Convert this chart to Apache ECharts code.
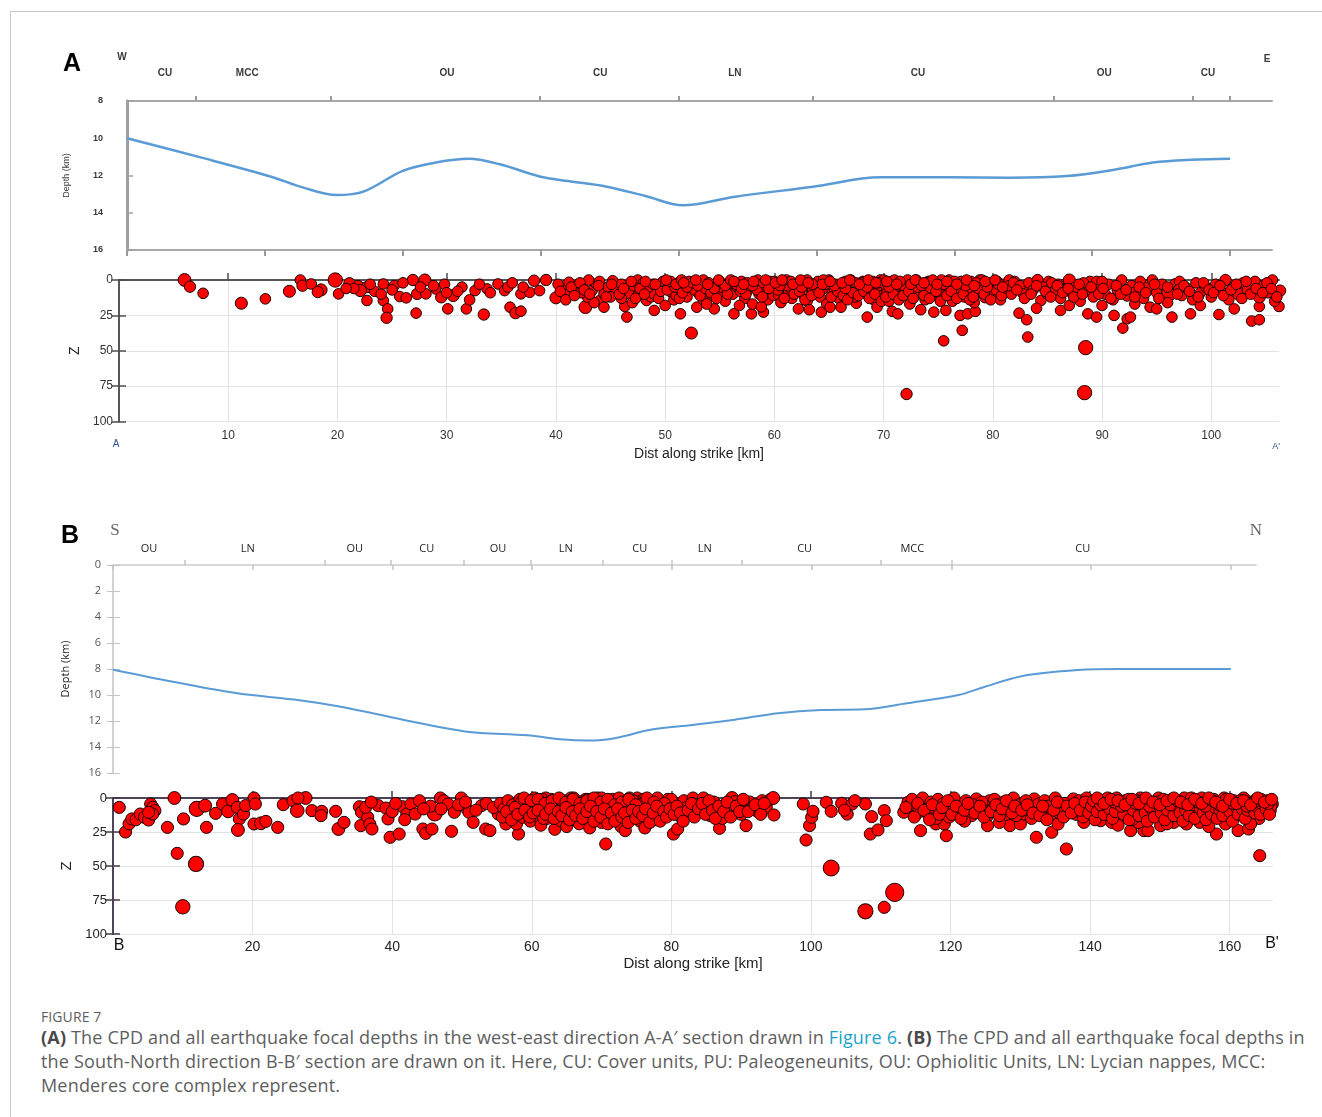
<!DOCTYPE html>
<html><head><meta charset="utf-8">
<script src="https://cdn.jsdelivr.net/npm/echarts@6/dist/echarts.min.js"></script>
<style>
html,body{margin:0;padding:0;background:#fff;width:1322px;height:1117px;overflow:hidden;}
#frame{position:absolute;left:10px;top:11px;width:1312px;height:1106px;border-top:1px solid #c8c8c8;border-left:1px solid #c8c8c8;}
#chart{position:absolute;left:0;top:0;width:1322px;height:1000px;}
#cap{position:absolute;left:41px;top:1008px;width:1280px;font-family:"Open Sans",sans-serif;color:#5e5e5e;white-space:nowrap;}
#cap .fig{font-size:14px;line-height:18px;letter-spacing:0.1px;text-transform:uppercase;}
#cap .txt{font-size:18px;line-height:24px;letter-spacing:0.18px;margin-top:-1px;}
#cap b{color:#4a4a4a;}
#cap .lnk{color:#1aa3c9;}
</style></head><body>
<div id="frame"></div>
<div id="chart"></div>
<div id="cap"><div class="fig">Figure 7</div><div class="txt"><b>(A)</b> The CPD and all earthquake focal depths in the west-east direction A-A′ section drawn in <span class="lnk">Figure 6</span>. <b>(B)</b> The CPD and all earthquake focal depths in<br>the South-North direction B-B′ section are drawn on it. Here, CU: Cover units, PU: Paleogeneunits, OU: Ophiolitic Units, LN: Lycian nappes, MCC:<br>Menderes core complex represent.</div></div>
<script>
// ---------- Panel A (west-east, A-A') ----------
const aUnitNames = ['CU','MCC','OU','CU','LN','CU','OU','CU'];
const aUnitCentres = [3.45,10.9,29,42.9,55.1,71.7,88.6,98];
const aUnitBounds = [6.26,18.5,37.4,50,62.2,84,96.6,100];
// CPD line: [distance km, depth km]
const aCpd = [[0,10.0],[6.5,11.0],[13,12.05],[16,12.65],[19,13.05],[21.5,12.85],[25,11.75],[28,11.3],[31,11.1],[33.8,11.4],[37.4,12.05],[40,12.3],[43.5,12.6],[47,13.1],[50.4,13.6],[55,13.15],[62.2,12.6],[68.3,12.1],[74.6,12.1],[80,12.12],[85.2,12.03],[89.4,11.7],[93,11.3],[96.5,11.15],[100,11.1]];
// focal depths: [distance km, depth km, magnitude]
const aQuakes = [
[6.0,0,3.2],[6.5,4.7,2.8],[7.7,9.4,2.6],[11.2,16.4,3.0],[13.4,13.3,2.6],[15.6,8,3.0],[16.6,0,2.6],[16.8,4,2.8],[17.6,2.8,2.6],[18.5,7,3.0],[18.2,8.5,2.8],[19.8,0,3.6],[20.1,9.8,2.6],[21.1,2.3,2.8],[21.9,4,2.6],[22.7,5,2.8],[23.4,8,2.6],[24.2,2.8,2.6],[22.1,7.5,3.0],[22.7,14.5,2.6],[24.2,14.5,2.6],[24.6,20.4,2.6],[24.5,26.7,2.8],[25.7,11.7,2.6],[26.3,12.6,2.6],[26.9,0,2.8],[27.3,9.8,2.8],[27.2,23.4,2.6],[28.0,0,3.0],[28.1,9.8,2.6],[27.6,5,2.6],[29,6.3,2.6],[29.5,12.2,2.8],[30.1,20.4,2.6],[30.6,11,3.0],[31.4,5,2.6],[31.8,20.4,2.6],[32.1,14,2.6],[32.6,7.5,2.6],[33.4,24.4,2.8],[33.7,6.3,2.6],[34.7,2.8,2.6],[35.3,7.5,2.6],[35.6,5,2.6],[35.8,19.2,2.6],[36.3,23.4,2.8],[36.8,22,2.6],[36.8,9.8,2.6],[37.6,8.7,2.6],[38,0.5,2.8],[38.5,7.5,2.6],[39.1,0,2.8],[21.5,6,2.6],[23.0,3,2.6],[25.2,4,2.6],[26,2,2.6],[29.8,3,2.6],[31,8,2.6],[33,3,2.6],[34,9,2.6],[36,2,2.6],[37,5,2.6],[30,9,2.6],[28.8,4,2.6],[25,7,2.6],[24,10,2.6],[20.8,6,2.6],
[40,12.6,3.0],[40.6,6.3,2.6],[41.2,1.6,2.6],[41.8,7.5,2.6],[42.7,19.2,3.2],[42.9,12.2,2.6],[43.3,7.5,2.6],[43.7,2.8,2.6],[44,14.5,2.6],[44.4,9.8,2.6],[44.8,5,2.6],[45.2,0.5,2.6],[44.4,19.2,2.6],[46.3,18.7,2.6],[46.5,26.2,2.6],[46.7,9.8,2.6],[47.1,4,2.6],[47.5,0,2.6],[47.9,8,2.6],[48.3,14.5,2.6],[48.7,12,2.6],[49,21.5,2.6],[49.3,6,2.6],[49.8,1,2.6],[40.2,3,2.6],[41,10,2.6],[42,4,2.6],[43,0,2.6],[45.5,7,2.6],[46,3,2.6],[46,13,2.6],[47,16,2.6],[48,2,2.6],[49,10,2.6],[45,12,2.6],[42.3,9,2.6],[44,1,2.6],[48.5,5,2.6],[43.5,16,2.6],[47.5,11,2.6],
[40.4,8,2.6],[40.9,14,2.6],[41.4,5,2.6],[41.7,11,2.6],[42.2,2,2.6],[42.6,7,2.6],[43.1,10,2.6],[43.9,4,2.6],[44.6,12,2.6],[45.1,3,2.6],[45.8,10,2.6],[46.2,6,2.6],[46.9,1,2.6],[47.3,13,2.6],[47.7,6,2.6],[48.1,10,2.6],[48.9,3,2.6],[49.4,13,2.6],[49.6,8,2.6],
[50.3,4,2.6],[50.6,9,2.6],[50.8,14,2.6],[51.4,23.9,2.6],[51.2,2,2.6],[51.8,7,2.6],[52,12,2.6],[52.4,37.5,3.0],[52.9,19.2,2.6],[52.5,3,2.6],[53,9,2.6],[53.3,1,2.6],[53.5,14,2.6],[54,5,2.6],[54.5,20.4,2.6],[54.3,11,2.6],[54.8,2,2.6],[55.2,8,2.6],[55.5,15,2.6],[55.8,3,2.6],[56.3,23.9,2.6],[56.2,10,2.6],[56.6,5,2.6],[57,1,2.6],[57.3,13,2.6],[57.6,7,2.6],[57.9,23.9,2.6],[58,17,2.6],[58.2,3,2.6],[58.6,10,2.6],[59,22.7,2.6],[59,5,2.6],[59.4,14,2.6],[59.6,1,2.6],[59.8,8,2.6],[50,18,2.6],[51,11,2.6],[53.8,17,2.6],[56.8,18,2.6],[58.8,19,2.6],
[50.2,7,2.6],[50.9,5,2.6],[51.3,13,2.6],[51.6,9,2.6],[52.2,1,2.6],[52.7,7,2.6],[53.2,11,2.6],[53.7,6,2.6],[54.2,9,2.6],[54.7,13,2.6],[55.1,5,2.6],[55.7,10,2.6],[56.1,2,2.6],[56.9,8,2.6],[57.4,10,2.6],[57.8,4,2.6],[58.4,7,2.6],[58.9,12,2.6],[59.3,3,2.6],[59.9,11,2.6],
[60.2,3,2.6],[60.4,11,2.6],[60.6,16,2.6],[60.8,6,2.6],[61.1,0,2.6],[61.3,9,2.6],[61.6,13,2.6],[61.9,4,2.6],[62.2,20.4,2.6],[62.1,7,2.6],[62.5,1,2.6],[62.7,11,2.6],[63,15,2.6],[63.2,21,2.6],[63.3,5,2.6],[63.6,9,2.6],[63.9,2,2.6],[64.2,12,2.6],[64.3,22.7,2.6],[64.5,6,2.6],[64.8,17,2.6],[65.1,19.2,2.6],[65,0,2.6],[65.3,9,2.6],[65.6,3,2.6],[65.9,13,2.6],[66.1,19.2,2.6],[66.2,7,2.6],[66.5,1,2.6],[66.8,10,2.6],[67.1,4,2.6],[67.5,16.4,2.6],[67.4,12,2.6],[67.8,7,2.6],[68.1,1,2.6],[68.5,26.2,2.6],[68.4,10,2.6],[68.8,4,2.6],[69.1,14,2.6],[69.4,19.2,2.6],[69.3,7,2.6],[69.7,0,2.6],[69.9,11,2.6],[60,1,2.6],[61,2,2.6],[62,3,2.6],[63,0,2.6],[64,1,2.6],[65,2,2.6],[66,4,2.6],[67,0,2.6],[68,2,2.6],[69,1,2.6],[61.5,6,2.6],[63.5,7,2.6],[65.5,6,2.6],[67.5,5,2.6],[69.5,4,2.6],
[60.3,7,2.6],[60.9,13,2.6],[61.2,4,2.6],[61.8,10,2.6],[62.3,8,2.6],[62.8,14,2.6],[63.4,11,2.6],[63.8,5,2.6],[64.1,9,2.6],[64.7,3,2.6],[65.2,12,2.6],[65.8,8,2.6],[66.3,11,2.6],[66.7,14,2.6],[67.2,9,2.6],[67.7,11,2.6],[68.2,8,2.6],[68.7,13,2.6],[69.2,10,2.6],[69.8,15,2.6],
[70.1,3,2.6],[70.3,9,2.6],[70.5,15,2.6],[70.8,22.2,2.6],[70.7,1,2.6],[71,6,2.6],[71.3,23.9,2.6],[71.3,12,2.6],[71.6,3,2.6],[71.9,8,2.6],[72.1,80.6,2.8],[72.2,0,2.6],[72.4,17,2.6],[72.6,5,2.6],[72.9,11,2.6],[73.2,2,2.6],[73.4,21,2.6],[73.5,7,2.6],[73.8,14,2.6],[74.1,1,2.6],[74.3,9,2.6],[74.6,22.7,2.6],[74.7,4,2.6],[75,12,2.6],[75.3,0,2.6],[75.5,43,2.6],[75.7,21.5,2.6],[75.6,7,2.6],[76,2,2.6],[76.3,15,2.6],[76.5,10,2.6],[76.8,4,2.6],[77,25,2.6],[77.2,35.6,2.6],[77.1,1,2.6],[77.4,12,2.6],[77.7,23.9,2.6],[77.7,7,2.6],[78,3,2.6],[78.4,22.2,2.6],[78.3,16,2.6],[78.5,9,2.6],[78.8,0,2.6],[79.1,5,2.6],[79.3,12.2,2.8],[79.6,2,2.6],[80.1,9.8,2.8],[80,5,2.6],[80.4,1,2.6],[80.7,14,2.6],[81.1,8.7,3.0],[81,3,2.6],[81.5,0,2.6],[81.8,6,2.6],[70,0,2.6],[71,0,2.6],[73,0,2.6],[74,2,2.6],[76,0,2.6],[78,1,2.6],[79,0,2.6],[80,2,2.6],[72,6,2.6],[74,6,2.6],[76,6,2.6],[78,6,2.6],[73,10,2.6],[75,9,2.6],[77,9,2.6],[79,8,2.6],
[70.2,12,2.6],[70.9,10,2.6],[71.4,14,2.6],[71.8,11,2.6],[72.3,8,2.6],[72.7,13,2.6],[73.1,5,2.6],[73.7,11,2.6],[74.2,13,2.6],[74.8,8,2.6],[75.2,15,2.6],[75.8,11,2.6],[76.2,8,2.6],[76.7,13,2.6],[77.3,10,2.6],[77.9,14,2.6],[78.2,12,2.6],[78.7,6,2.6],[79.2,10,2.6],[79.8,14,2.6],[80.3,7,2.6],[80.8,11,2.6],[81.3,6,2.6],[81.7,10,2.6],
[50.5,1,2.6],[51,3,2.6],[51.5,0,2.6],[52,5,2.6],[52.5,2,2.6],[53,4,2.6],[53.5,0,2.6],[54,2,2.6],[54.5,6,2.6],[55,1,2.6],[55.5,4,2.6],[56,0,2.6],[56.5,3,2.6],[57,6,2.6],[57.5,2,2.6],[58,4,2.6],[58.5,0,2.6],[59,2,2.6],[59.5,6,2.6],[60.5,4,2.6],[61.5,1,2.6],[62.5,5,2.6],[63.5,3,2.6],[64.5,0,2.6],[65.5,4,2.6],[66.5,6,2.6],[67.5,2,2.6],[68.5,5,2.6],[69.5,2,2.6],[70.5,5,2.6],[71.5,1,2.6],[72.5,3,2.6],[73.5,4,2.6],[74.5,0,2.6],[75.5,3,2.6],[76.5,1,2.6],[77.5,4,2.6],[78.5,2,2.6],[79.5,5,2.6],[80.5,3,2.6],[81.5,4,2.6],[82,1,2.6],
[48.2,1,2.6],[49.1,3,2.6],[50.1,0,2.6],[51.7,2,2.6],[52.8,0,2.6],[53.9,3,2.6],[54.9,0,2.6],[56.3,1,2.6],[57.2,3,2.6],[58.1,1,2.6],[59.2,0,2.6],[60.1,2,2.6],[60.7,0,2.6],[61.7,3,2.6],[62.4,0,2.6],[63.1,2,2.6],[64.4,3,2.6],[65.1,1,2.6],[66.2,2,2.6],[66.9,0,2.6],[67.8,3,2.6],[68.6,0,2.6],[69.3,2,2.6],[70.3,1,2.6],[71.2,3,2.6],[72.9,0,2.6],[73.7,2,2.6],[74.9,3,2.6],[75.8,1,2.6],[76.7,3,2.6],[77.6,0,2.6],[78.3,4,2.6],[79.3,1,2.6],[80.2,0,2.6],[80.9,5,2.6],[81.9,2,2.6],[83,5,2.6],[85.1,1,2.6],[86.8,2,2.6],[88.9,1,2.6],
[82.4,23.4,2.6],[83.1,28.1,2.6],[83.2,40.3,2.6],[82.5,4,2.6],[82.8,10,2.6],[83.3,2,2.6],[83.7,7,2.6],[84.1,0,2.8],[84.4,14.5,2.6],[84.6,5,2.6],[85,10,2.6],[85.4,2,2.6],[85.8,7,2.8],[86.2,21.5,2.6],[86.2,13,2.6],[86.6,3,2.6],[87,0,3.0],[87.2,9,2.6],[87.6,5,2.8],[88,15,2.6],[88.5,47.8,3.6],[88.4,79.6,3.6],[88.7,23.9,2.6],[88.3,2,2.6],[88.8,8,2.6],[89.2,12,2.6],[89.5,26.2,2.6],[89.5,1,2.6],[89.8,6,2.6],[90.3,10,2.6],[90.6,3,2.6],[91.1,25,2.6],[91,14,2.6],[91.4,7,2.6],[91.9,34,2.6],[91.8,0,2.6],[92.3,27.4,2.6],[92.3,11,2.8],[92.6,26.2,2.6],[92.7,4,2.6],[93.1,8,2.6],[93.5,1,2.6],[93.8,13,2.6],[94.2,5,2.6],[94.4,19.2,2.6],[94.6,0,2.6],[95,20.4,2.6],[95,9,2.6],[95.5,3,2.6],[95.8,12,2.6],[96.2,8.7,4.0],[96.4,26.2,2.6],[96.7,3,2.8],[97.1,1,2.6],[97.3,11,2.6],[97.8,6,2.6],[98.1,23.9,2.6],[98.3,14,2.6],[98.6,2,2.6],[99,9,2.6],[99.5,5,2.6],[100,12,2.6],[100.4,3,2.6],[100.7,24.4,2.6],[100.9,8,2.6],[101.3,0,2.8],[101.6,14,2.6],[102.1,20.4,2.6],[102,5,2.6],[102.5,10,3.0],[102.9,2,2.6],[103.3,7,2.6],[103.7,29,2.6],[104.4,28.1,2.6],[104.4,18.7,2.6],[104,1,2.6],[104.4,12,3.0],[104.8,4,2.6],[105.2,9,2.6],[105.6,0,2.6],[106.2,18.7,2.6],[106.3,7.5,2.8],[105.8,15,2.6],[84,20,2.6],[87,18,2.6],[90,18,2.6],[93,17,2.6],[96,16,2.6],[99,18,2.6],[86,3,2.6],[90,1,2.6],[97,7,2.6],
[82.2,7,2.6],[82.9,13,2.6],[83.5,10,2.6],[84,4,2.6],[84.8,8,2.6],[85.3,12,2.6],[85.9,4,2.6],[86.4,9,2.6],[86.9,6,2.6],[87.4,12,2.6],[87.9,3,2.6],[88.2,10,2.6],[89,5,2.6],[89.7,10,2.6],[90.1,6,2.6],[90.8,13,2.6],[91.3,4,2.6],[91.7,10,2.6],[92.2,7,2.6],[93,12,2.6],[93.4,5,2.6],[94,9,2.6],[94.8,3,2.6],[95.2,13,2.6],[96,5,2.6],[96.9,10,2.6],[97.5,4,2.6],[98,8,2.6],[98.8,12,2.6],[99.3,2,2.6],[99.8,7,2.6],[100.2,9,2.6],[100.8,4,2.6],[101.1,11,2.6],[101.8,7,2.6],[102.3,3,2.6],[102.8,13,2.6],[103.2,1,2.6],[103.6,10,2.6],[104.1,6,2.6],[104.7,9,2.6],[105.1,2,2.6],[105.5,6,2.6],[106,12,2.6]
];
const aTopTicks = [0,12.5,25,37.5,50,62.5,75,87.5,100];
const aDistTicks = [10,20,30,40,50,60,70,80,90,100];

// ---------- Panel B (south-north, B-B') ----------
const bUnitNames = ['OU','LN','OU','CU','OU','LN','CU','LN','CU','MCC','CU'];
const bUnitCentres = [5.15,19.3,34.6,44.9,55.1,64.8,75.4,84.7,99,114.4,138.8];
const bUnitBounds = [10.3,30.3,39.8,50.2,59.8,70.1,80,90,109.9,120];
const bCpd = [[0,8.05],[8.8,9.0],[17.8,9.87],[26.7,10.4],[32.6,10.9],[41.5,11.9],[50.4,12.8],[59.3,13.1],[64,13.4],[68.1,13.5],[72,13.3],[77.1,12.65],[83,12.3],[89,11.9],[95.2,11.4],[101.3,11.15],[107.5,11.1],[113.6,10.64],[121,10.0],[124.6,9.4],[130.2,8.54],[138.1,8.08],[144.2,8.0],[160,8.0]];
const bQuakes = [
[0.9,6.9,2.8],[1.8,25,2.8],[2.3,19,2.8],[2.7,15.4,2.8],[3.3,16,2.8],[3.9,11.8,2.8],[4.5,14.2,2.8],[5.1,16.2,2.8],[5.4,4.4,2.8],[5.7,6.9,2.8],[6,9.3,2.8],[5.7,11.8,2.8],[5.1,10.5,2.8],[7.8,21.6,2.8],[8.8,0,3.0],[9.2,40.7,2.8],[10,80,3.4],[10.1,15.4,2.8],[11.9,48.5,3.6],[12,8,3.6],[13.2,5.6,3.0],[13.4,21.6,2.8],[14.7,11.3,2.8],[15.7,4.4,2.8],[16.5,9.8,3.0],[17.1,1.5,3.0],[17.8,6.9,2.8],[18.1,15.4,2.8],[17.9,23.5,3.0],[18.7,11.8,2.8],[19,5.6,2.8],[20.2,0,2.8],[20.4,4.4,2.8],[20.2,19.1,2.8],[21.2,18.6,3.0],[21.9,17.2,2.8],[23.6,21.6,2.8],[24.4,4.9,2.8],[25.8,2,2.8],[26.4,9.3,3.2],[27.6,0,3.0],[26.5,0,2.8],[28.5,9.3,2.8],[29.9,9.8,2.8],[29.8,13,2.8],[31.9,9.8,2.8],[32.3,22.8,3.0],[33.1,17.9,2.8],[35.3,6.4,2.8],[35.6,10.5,2.8],[35.5,20.3,2.8],[36.5,14.2,2.8],[36.8,19.1,2.8],[37.1,22.8,2.8],[36.2,6.9,2.8],[38,5.6,2.8],[39.1,7.4,2.8],[39.4,15.4,2.8],[39.7,28.9,2.8],[41,26.5,2.8],[41.5,6.4,2.8],[42.1,11.8,2.8],[42.7,4.4,2.8],[43.3,11.8,2.8],[43.9,2,2.8],[41.8,16,2.8],[44.4,22.8,2.8],[44.8,26,2.8],[45.7,22.8,2.8],[46.1,11.3,3.6],[46.9,0,2.8],[47.4,2,2.8],[48,4.4,2.8],[48.5,24.5,2.8],[48.9,10.5,2.8],[49.9,0,2.8],[50.7,8,2.8],[51,10.5,2.8],[51.6,17.9,2.8],[52.8,5.6,2.8],[53.4,22.8,2.8],[54,24,2.8],[55.2,11.8,2.8],[45.5,6,2.8],[44.5,8,2.8],[47,8,2.8],[49.5,5,2.8],[52,9,2.8],[53.5,4,2.8],[54.5,7,2.8],[50.5,3,2.8],[37,3,2.8],[40,10,2.8],[40.5,4,2.8],
[56.3,19.1,2.8],[58.1,26.5,2.8],[57.8,19.1,2.8],[58.7,14.2,2.8],[55.5,4,2.8],[56,8,2.8],[56.6,2,2.8],[57,12,2.8],[57.3,5,2.8],[57.8,9,2.8],[58.3,1,2.8],[58.6,6,2.8],[59.1,11,2.8],[59.4,3,2.8],[59.8,17,2.8],[60.1,8,2.8],[60.4,0,2.8],[60.7,13,2.8],[61,5,2.8],[61.3,20,2.8],[61.5,2,2.8],[61.8,10,2.8],[62.2,15,2.8],[62.4,6,2.8],[62.8,1,2.8],[63.1,12,2.8],[63.3,23,2.8],[63.6,4,2.8],[63.9,8,2.8],[64.2,17,2.8],[64.5,2,2.8],[64.8,11,2.8],[65,21,2.8],[65.3,6,2.8],[65.6,0,2.8],[65.9,14,2.8],[66.2,9,2.8],[66.5,3,2.8],[66.8,19,2.8],[67.1,12,2.8],[67.4,6,2.8],[67.7,1,2.8],[68,16,2.8],[68.3,22,2.8],[68.5,9,2.8],[68.8,4,2.8],[69.1,13,2.8],[69.4,0,2.8],[69.7,7,2.8],[70,18,2.8],[70.3,11,2.8],[70.6,33.8,2.8],[70.6,3,2.8],[71,15,2.8],[71.3,8,2.8],[71.6,1,2.8],[72,12,2.8],[72.4,5,2.8],[72.8,21,2.8],[73.1,9,2.8],[73.4,24,2.8],[73.5,2,2.8],[73.9,14,2.8],[74.3,6,2.8],[74.7,11,2.8],[75.1,0,2.8],[75.5,17,2.8],[75.8,7,2.8],[76.2,22,2.8],[76.4,3,2.8],[76.8,12,2.8],[77.2,5,2.8],[77.6,16,2.8],[78,9,2.8],[78.3,2,2.8],[78.7,14,3.0],[79.1,6,2.8],[79.5,1,2.8],[79.9,11,2.8],[80.3,26.5,2.8],[80.9,22.8,2.8],[80.6,4,2.8],[81,9,2.8],[81.4,14,2.8],[81.8,2,2.8],[82.2,7,2.8],[82.7,12,2.8],[83.1,0,2.8],[83.6,5,2.8],[84.1,10,2.8],[84.6,0,2.8],[85,6,2.8],[85.6,13,2.8],[86.1,3,2.8],[86.5,9,2.8],[86.9,22.3,2.8],[87.3,15,2.8],[87.7,5,2.8],[88.2,11,2.8],[88.7,0,3.0],[89.1,3,3.0],[89.5,8,2.8],[90,12,2.8],[90.4,4,2.8],[90.7,20.3,2.8],[91.2,3.2,3.0],[91.6,7,2.8],[92.4,9.8,3.0],[93,2,2.8],[93.6,6.9,2.8],[94.2,1,2.8],[94.6,0,3.0],[94.7,12.5,2.8],[60,3,2.8],[62,0,2.8],[64,1,2.8],[66,0,2.8],[68,1,2.8],[70,0,2.8],[72,2,2.8],[74,0,2.8],[76,1,2.8],[78,0,2.8],[80,1,2.8],[61,7,2.8],[63,5,2.8],[65,4,2.8],[67,3,2.8],[69,5,2.8],[71,4,2.8],[73,6,2.8],[75,3,2.8],[77,8,2.8],[79,4,2.8],
[58.5,3,2.8],[59.5,6,2.8],[60.5,4,2.8],[61.5,1,2.8],[62.5,3,2.8],[63.5,6,2.8],[64.5,4,2.8],[65.5,2,2.8],[66.5,6,2.8],[67.5,3,2.8],[68.5,1,2.8],[69.5,4,2.8],[70.5,6,2.8],[71.5,3,2.8],[72.5,0,2.8],[73.5,4,2.8],[74.5,2,2.8],[75.5,5,2.8],[76.5,0,2.8],[77.5,3,2.8],
[58.9,0,2.8],[59.9,2,2.8],[60.9,1,2.8],[61.9,4,2.8],[62.9,2,2.8],[63.9,0,2.8],[64.9,3,2.8],[65.9,1,2.8],[66.9,4,2.8],[67.9,2,2.8],[68.9,0,2.8],[69.9,3,2.8],[70.9,1,2.8],[71.9,5,2.8],[72.9,3,2.8],[73.9,1,2.8],[74.9,5,2.8],
[55.8,14,2.8],[56.4,10,2.8],[57.1,16,2.8],[57.6,7,2.8],[58,12,2.8],[59,9,2.8],[59.7,14,2.8],[60.2,11,2.8],[60.9,9,2.8],[61.7,15,2.8],[62,12,2.8],[62.7,8,2.8],[63.2,15,2.8],[63.8,10,2.8],[64.3,13,2.8],[64.9,7,2.8],[65.4,16,2.8],[65.8,10,2.8],[66.3,13,2.8],[66.9,8,2.8],[67.3,15,2.8],[67.9,10,2.8],[68.4,6,2.8],[68.9,17,2.8],[69.3,10,2.8],[69.9,14,2.8],[70.4,8,2.8],[70.9,19,2.8],[71.4,11,2.8],[71.9,17,2.8],[72.3,8,2.8],[72.9,14,2.8],[73.3,11,2.8],[73.8,18,2.8],[74.4,9,2.8],[74.9,15,2.8],[75.3,10,2.8],[75.9,13,2.8],[76.3,8,2.8],[76.9,18,2.8],[77.4,11,2.8],[77.9,6,2.8],[78.4,17,2.8],[78.9,10,2.8],[79.3,14,2.8],[79.8,8,2.8],[80.4,12,2.8],[80.8,6,2.8],[81.3,11,2.8],[81.7,17,2.8],[82.4,9,2.8],[82.9,4,2.8],[83.3,14,2.8],[83.9,8,2.8],[84.4,4,2.8],[84.9,12,2.8],[85.4,2,2.8],[85.9,9,2.8],[86.3,15,2.8],[86.8,6,2.8],[87.5,10,2.8],[88,3,2.8],[88.5,14,2.8],[89.3,6,2.8],[89.8,10,2.8],[90.3,1,2.8],[91,10,2.8],[92,5,2.8],[92.8,12,2.8],[93.3,4,2.8],
[98.9,4.4,2.8],[99.3,30.9,2.8],[99.8,20.3,2.8],[100.1,14.2,2.8],[100.3,9.8,2.8],[102.9,51.5,3.8],[102.2,3.2,2.8],[102.9,9.8,2.8],[104.4,3.9,2.8],[105.2,11.8,2.8],[105.9,4.4,2.8],[107.8,4.4,2.8],[107.8,83.3,3.6],[110.5,80.4,2.8],[112,69.4,4.4],[108.5,26.5,2.8],[109.6,23.5,2.8],[108.7,13.7,2.8],[110.5,9.3,2.8],[110.8,16.7,2.8],[104.8,9,2.8],[106.3,2,2.8],
[113.3,10.5,2.8],[113.9,3.2,2.8],[115.1,11.8,2.8],[115.7,24,2.8],[116.4,5.6,2.8],[117.9,19.1,2.8],[119.4,27.7,2.8],[119.1,19.1,2.8],[120,9.3,3.0],[121.3,4.4,2.8],[122.8,9.3,2.8],[123.7,0.7,2.8],[125.3,13,2.8],[125.3,20.3,2.8],[125.6,2,2.8],[126.8,5.6,2.8],[128,16.7,2.8],[128.5,20.3,2.8],[130,19.1,2.8],[130.5,11.8,2.8],[132,0.7,2.8],[132.6,4.4,2.8],[132.3,28.9,2.8],[134.2,13,2.8],[134.5,25.2,2.8],[135.4,19.1,2.8],[136.6,37.5,2.8],[136,9.3,2.8],[137.6,0.7,2.8],[139.1,17.9,2.8],[139.1,6.9,2.8],[141.5,16.7,2.8],[143.1,17.9,2.8],[144.6,9.3,2.8],[145.8,24,2.8],[147.7,24,2.8],[148.3,24,2.8],[150.1,20.3,2.8],[152,17.9,2.8],[153.8,19.1,2.8],[155.7,17.9,2.8],[158.1,26.5,2.8],[159.4,19.1,2.8],[161.2,24,2.8],[162.7,22.8,2.8],[164.3,42.4,2.8],[165.8,9.3,2.8],[166.1,4.4,2.8],
[114,6,2.8],[114.5,1,2.8],[115.5,8,2.8],[116,0,2.8],[116.8,12,2.8],[117.2,3,2.8],[117.6,7,2.8],[118.2,1,2.8],[118.6,10,2.8],[119,4,2.8],[119.8,14,2.8],[120.5,0,2.8],[121,11,2.8],[121.8,6,2.8],[122.2,2,2.8],[123,13,2.8],[123.3,5,2.8],[124,9,2.8],[124.5,3,2.8],[126,8,2.8],[126.3,1,2.8],[127.2,11,2.8],[127.6,3,2.8],[128.2,7,2.8],[129,0,2.8],[129.4,13,2.8],[129.8,5,2.8],[130.8,2,2.8],[131.2,8,2.8],[131.6,15,2.8],[133,9,2.8],[133.5,2,2.8],[134,6,2.8],[135,0,2.8],[135.6,11,2.8],[136.4,4,2.8],[137,8,2.8],[138,12,2.8],[138.4,2,2.8],[139.5,0,2.8],[140,9,2.8],[140.4,4,2.8],[140.9,13,2.8],[141.2,1,2.8],[141.8,7,2.8],[142.2,3,2.8],[142.6,11,2.8],[143.4,5,2.8],[143.8,0,2.8],[144.2,14,2.8],[145,2,2.8],[145.4,8,2.8],[146,12,2.8],[146.4,4,2.8],[146.9,18,2.8],[147.2,0,2.8],[147.6,9,2.8],[148,2,2.8],[148.6,14,2.8],[149,5,2.8],[149.4,11,2.8],[149.8,0,2.8],[150.5,7,2.8],[150.9,3,2.8],[151.3,13,2.8],[151.7,1,2.8],[152.3,9,2.8],[152.7,4,2.8],[153.2,15,2.8],[153.5,0,2.8],[154,7,2.8],[154.4,2,2.8],[154.9,11,2.8],[155.3,5,2.8],[156,0,2.8],[156.4,13,2.8],[156.8,3,2.8],[157.2,8,2.8],[157.7,1,2.8],[158.4,11,2.8],[158.8,4,2.8],[159.2,0,2.8],[159.8,7,2.8],[160.2,14,2.8],[160.6,2,2.8],[161,9,2.8],[161.6,5,2.8],[162,0,2.8],[162.4,12,2.8],[162.9,3,2.8],[163.3,8,2.8],[163.8,1,2.8],[164.2,15,2.8],[164.6,5,2.8],[165,10,2.8],[165.4,2,2.8],[165.9,6,2.8],[144,20,2.8],[151,19,2.8],[157,21,2.8],[163,19,2.8],[139,14,2.8],[146,16,2.8],[118,15,2.8],[122,17,2.8],[127,18,2.8],
[113.6,7,2.8],[114.8,14,2.8],[115.3,4,2.8],[116.2,9,2.8],[117,16,2.8],[117.4,5,2.8],[118.4,12,2.8],[118.8,7,2.8],[119.6,2,2.8],[120.2,12,2.8],[120.8,6,2.8],[121.5,15,2.8],[122,9,2.8],[122.5,4,2.8],[123.5,11,2.8],[124.2,6,2.8],[124.8,14,2.8],[125.8,10,2.8],[126.5,5,2.8],[127,13,2.8],[127.4,8,2.8],[128,2,2.8],[128.8,11,2.8],[129.2,6,2.8],[130.2,9,2.8],[131,5,2.8],[131.8,11,2.8],[132.8,13,2.8],[133.2,6,2.8],[133.8,16,2.8],[134.8,9,2.8],[135.3,3,2.8],[136.2,14,2.8],[136.7,6,2.8],[137.3,11,2.8],[137.8,4,2.8],[138.6,9,2.8],[139.3,3,2.8],[139.8,11,2.8],[140.2,6,2.8],[140.7,16,2.8],[141,10,2.8],[141.6,3,2.8],[142,12,2.8],[142.8,8,2.8],[143.2,15,2.8],[143.6,10,2.8],[144,4,2.8],[144.8,12,2.8],[145.2,5,2.8],[145.6,16,2.8],[146.2,9,2.8],[146.7,2,2.8],[147,13,2.8],[147.4,6,2.8],[147.9,11,2.8],[148.2,17,2.8],[148.8,8,2.8],[149.2,14,2.8],[149.6,6,2.8],[150.2,11,2.8],[150.7,16,2.8],[151.1,9,2.8],[151.5,3,2.8],[152,13,2.8],[152.5,7,2.8],[152.9,11,2.8],[153.3,17,2.8],[153.7,9,2.8],[154.2,13,2.8],[154.6,5,2.8],[155,15,2.8],[155.8,8,2.8],[156.2,11,2.8],[156.6,16,2.8],[157,5,2.8],[157.4,12,2.8],[157.9,7,2.8],[158.2,15,2.8],[158.6,9,2.8],[159,13,2.8],[159.6,4,2.8],[160,10,2.8],[160.4,17,2.8],[160.8,6,2.8],[161.2,12,2.8],[161.8,8,2.8],[162.2,15,2.8],[162.6,9,2.8],[163,4,2.8],[163.6,11,2.8],[164,7,2.8],[164.4,12,2.8],[164.8,3,2.8],[165.2,8,2.8],[165.7,12,2.8],
[140.5,2,2.8],[141.5,5,2.8],[142.5,0,2.8],[143.5,3,2.8],[144.5,6,2.8],[145.5,1,2.8],[146.5,4,2.8],[147.5,2,2.8],[148.5,6,2.8],[149.5,3,2.8],[150.5,1,2.8],[151.5,5,2.8],[152.5,2,2.8],[153.5,4,2.8],[154.5,0,2.8],[155.5,3,2.8],[156.5,6,2.8],[157.5,2,2.8],[158.5,5,2.8],[159.5,1,2.8],[160.5,4,2.8],[161.5,2,2.8],[162.5,6,2.8],[163.5,3,2.8],[164.5,1,2.8],[165.5,4,2.8],
[141,0,2.8],[142,4,2.8],[143,1,2.8],[144,2,2.8],[145,5,2.8],[146,1,2.8],[147,4,2.8],[148,0,2.8],[149,3,2.8],[150,5,2.8],[151,2,2.8],[152,0,2.8],[153,3,2.8],[154,5,2.8],[155,1,2.8],[156,4,2.8],[157,0,2.8],[158,3,2.8],[159,6,2.8],[160,1,2.8],[161,4,2.8],[162,2,2.8],[163,5,2.8],[164,0,2.8],[165,3,2.8],[166,1,2.8]
];
const bDistTicks = [20,40,60,80,100,120,140,160];

// ---------- chart ----------
const chart = echarts.init(document.getElementById('chart'), null, {renderer:'canvas'});
const SANS = '"Liberation Sans", Arial, sans-serif';
function nameAt(names, centres){
  return function(v){ for (let i=0;i<centres.length;i++){ if (Math.abs(centres[i]-v)<1e-6) return names[i]; } return ''; };
}
const hide = {show:false};
const gridsDef = [
  {left:127, top:101, width:1145, height:149},
  {left:119, top:280, width:1160, height:141.5},
  {left:113, top:565, width:1143, height:208},
  {left:113, top:798, width:1160, height:136}
];
const scatterFrame = '#4d4d4d';
const bFrame = '#44384f';
const option = {
  animation:false,
  grid: gridsDef.map(g=>Object.assign({containLabel:false}, g)),
  xAxis: [
    {gridIndex:0, type:'value', min:0, max:103.8, interval:12.5, position:'bottom',
      axisLine:{show:true, lineStyle:{color:'#a8a8a8', width:2}},
      axisTick:{show:true, length:6, lineStyle:{color:'#9a9a9a', width:2}, customValues:aTopTicks},
      axisLabel:hide, splitLine:hide},
    {gridIndex:0, type:'value', min:0, max:103.8, position:'top',
      axisLine:{show:true, lineStyle:{color:'#a8a8a8', width:2}},
      axisTick:{show:true, length:5, lineStyle:{color:'#9a9a9a', width:2}, customValues:aUnitBounds},
      axisLabel:{show:true, customValues:aUnitCentres, formatter:nameAt(aUnitNames,aUnitCentres), margin:23, fontSize:10, fontWeight:'bold', color:'#3a3a3a', fontFamily:SANS},
      splitLine:hide},
    {gridIndex:1, type:'value', min:0, max:106.2, interval:10, position:'bottom',
      axisLine:{show:true, lineStyle:{color:scatterFrame, width:1.5}},
      axisTick:{show:true, inside:true, length:7, lineStyle:{color:scatterFrame, width:1.5}, customValues:aDistTicks},
      axisLabel:{show:true, customValues:aDistTicks, margin:8, fontSize:12, color:'#333', fontFamily:SANS},
      splitLine:{show:true, lineStyle:{color:'#e3e3e3', width:1}},
      name:'Dist along strike [km]', nameLocation:'middle', nameGap:26, nameTextStyle:{fontSize:14, color:'#222', fontFamily:SANS}},
    {gridIndex:1, type:'value', min:0, max:106.2, position:'top',
      axisLine:{show:true, lineStyle:{color:scatterFrame, width:1.5}}, axisTick:hide, axisLabel:hide, splitLine:hide},
    {gridIndex:2, type:'value', min:0, max:163.6, interval:20, position:'bottom',
      axisLine:{show:true, lineStyle:{color:'#d6d6d6', width:1.5}},
      axisTick:{show:true, length:5, lineStyle:{color:'#c4c4c4', width:1.5}, customValues:[0,20,40,60,80,100,120,140,160]},
      axisLabel:hide, splitLine:hide},
    {gridIndex:2, type:'value', min:0, max:163.6, position:'top',
      axisLine:{show:true, lineStyle:{color:'#d6d6d6', width:1.5}},
      axisTick:{show:true, length:5, lineStyle:{color:'#c4c4c4', width:1.5}, customValues:bUnitBounds},
      axisLabel:{show:true, customValues:bUnitCentres, formatter:nameAt(bUnitNames,bUnitCentres), margin:11, fontSize:11, color:'#222', fontFamily:'"Open Sans", sans-serif'},
      splitLine:hide},
    {gridIndex:3, type:'value', min:0, max:166.2, interval:20, position:'bottom',
      axisLine:{show:true, lineStyle:{color:bFrame, width:1.5}},
      axisTick:{show:true, inside:true, length:7, lineStyle:{color:bFrame, width:1.5}, customValues:bDistTicks},
      axisLabel:{show:true, customValues:bDistTicks, margin:6, fontSize:14, color:'#222', fontFamily:SANS},
      splitLine:{show:true, lineStyle:{color:'#e3e3e3', width:1}},
      name:'Dist along strike [km]', nameLocation:'middle', nameGap:22, nameTextStyle:{fontSize:15, color:'#222', fontFamily:SANS}},
    {gridIndex:3, type:'value', min:0, max:166.2, position:'top',
      axisLine:{show:true, lineStyle:{color:bFrame, width:1.5}}, axisTick:hide, axisLabel:hide, splitLine:hide}
  ],
  yAxis: [
    {gridIndex:0, type:'value', inverse:true, min:8, max:16, interval:2, position:'left',
      axisLine:{show:true, lineStyle:{color:'#a0a0a0', width:3}}, axisTick:hide,
      axisLabel:{show:true, margin:24, fontSize:9, fontWeight:'bold', color:'#3a3a3a', fontFamily:SANS},
      splitLine:hide, name:'Depth (km)', nameLocation:'middle', nameGap:56, nameTextStyle:{fontSize:9, color:'#3a3a3a', fontFamily:SANS}},
    {gridIndex:0, type:'value', inverse:true, min:8, max:16, interval:2, position:'right',
      axisLine:{show:true, lineStyle:{color:'#a0a0a0', width:3}},
      axisTick:{show:true, length:6, lineStyle:{color:'#a0a0a0', width:1.5}}, axisLabel:hide, splitLine:hide},
    {gridIndex:1, type:'value', inverse:true, min:0, max:100, interval:25, position:'left',
      axisLine:{show:true, lineStyle:{color:scatterFrame, width:1.5}},
      axisTick:{show:true, inside:true, length:7, lineStyle:{color:scatterFrame, width:1.5}},
      axisLabel:{show:true, margin:6, fontSize:12, color:'#333', fontFamily:SANS},
      splitLine:{show:true, lineStyle:{color:'#e3e3e3', width:1}},
      name:'Z', nameLocation:'middle', nameGap:37, nameTextStyle:{fontSize:14, color:'#222', fontFamily:SANS}},
    {gridIndex:1, type:'value', inverse:true, min:0, max:100, interval:25, position:'right',
      axisLine:{show:true, lineStyle:{color:scatterFrame, width:1.5}},
      axisTick:{show:true, inside:true, length:7, lineStyle:{color:scatterFrame, width:1.5}}, axisLabel:hide, splitLine:hide},
    {gridIndex:2, type:'value', inverse:true, min:0, max:16, interval:2, position:'left',
      axisLine:{show:true, lineStyle:{color:'#d0d0d0', width:1.5}},
      axisTick:{show:true, length:6, lineStyle:{color:'#c4c4c4', width:1}},
      axisLabel:{show:true, margin:12, fontSize:11, color:'#555', fontFamily:'"Open Sans", sans-serif'},
      splitLine:hide, name:'Depth (km)', nameLocation:'middle', nameGap:42, nameTextStyle:{fontSize:11, color:'#222', fontFamily:'"Open Sans", sans-serif'}},
    {gridIndex:2, type:'value', inverse:true, min:0, max:16, interval:2, position:'right',
      axisLine:{show:true, lineStyle:{color:'#d0d0d0', width:1.5}},
      axisTick:{show:true, length:7, lineStyle:{color:'#c4c4c4', width:1}}, axisLabel:hide, splitLine:hide},
    {gridIndex:3, type:'value', inverse:true, min:0, max:100, interval:25, position:'left',
      axisLine:{show:true, lineStyle:{color:bFrame, width:1.5}},
      axisTick:{show:true, inside:true, length:7, lineStyle:{color:bFrame, width:1.5}},
      axisLabel:{show:true, margin:6, fontSize:13, color:'#222', fontFamily:SANS},
      splitLine:{show:true, lineStyle:{color:'#e3e3e3', width:1}},
      name:'Z', nameLocation:'middle', nameGap:36, nameTextStyle:{fontSize:15, color:'#222', fontFamily:SANS}},
    {gridIndex:3, type:'value', inverse:true, min:0, max:100, interval:25, position:'right',
      axisLine:{show:true, lineStyle:{color:bFrame, width:1.5}},
      axisTick:{show:true, inside:true, length:7, lineStyle:{color:bFrame, width:1.5}}, axisLabel:hide, splitLine:hide}
  ],
  series: [
    {type:'line', xAxisIndex:0, yAxisIndex:0, data:aCpd, smooth:0.35, symbol:'none',
      lineStyle:{color:'#5b9bd5', width:2.5}},
    {type:'scatter', xAxisIndex:2, yAxisIndex:2, data:aQuakes, clip:false,
      symbolSize:d=>d[2]*3.7+1, itemStyle:{color:'#ff0000', borderColor:'#1a0000', borderWidth:1, opacity:1}},
    {type:'line', xAxisIndex:4, yAxisIndex:4, data:bCpd, smooth:0.35, symbol:'none',
      lineStyle:{color:'#5b9bd5', width:2}},
    {type:'scatter', xAxisIndex:6, yAxisIndex:6, data:bQuakes, clip:false,
      symbolSize:d=>d[2]*3.8+1.5, itemStyle:{color:'#ff0000', borderColor:'#1a0000', borderWidth:1, opacity:1}}
  ],
  graphic: [
    {type:'text', x:72, y:64, style:{text:'A', font:'bold 25px '+SANS, fill:'#000', align:'center', verticalAlign:'middle'}},
    {type:'text', x:70, y:536, style:{text:'B', font:'bold 25px '+SANS, fill:'#000', align:'center', verticalAlign:'middle'}},
    {type:'text', x:122, y:57, style:{text:'W', font:'bold 10px '+SANS, fill:'#3a3a3a', align:'center', verticalAlign:'middle'}},
    {type:'text', x:1267, y:59, style:{text:'E', font:'bold 10px '+SANS, fill:'#3a3a3a', align:'center', verticalAlign:'middle'}},
    {type:'text', x:115, y:531, style:{text:'S', font:'17px "Liberation Serif", serif', fill:'#666', align:'center', verticalAlign:'middle'}},
    {type:'text', x:1256, y:531, style:{text:'N', font:'17px "Liberation Serif", serif', fill:'#666', align:'center', verticalAlign:'middle'}},
    {type:'text', x:116, y:444, style:{text:'A', font:'10px '+SANS, fill:'#2d4f8a', align:'center', verticalAlign:'middle'}},
    {type:'text', x:1276, y:447, style:{text:'A\'', font:'9px '+SANS, fill:'#2d4f8a', align:'center', verticalAlign:'middle'}},
    {type:'text', x:119, y:946, style:{text:'B', font:'16px '+SANS, fill:'#111', align:'center', verticalAlign:'middle'}},
    {type:'text', x:1272, y:944, style:{text:'B\'', font:'16px '+SANS, fill:'#111', align:'center', verticalAlign:'middle'}}
  ]
};
chart.setOption(option);
</script>
</body></html>
